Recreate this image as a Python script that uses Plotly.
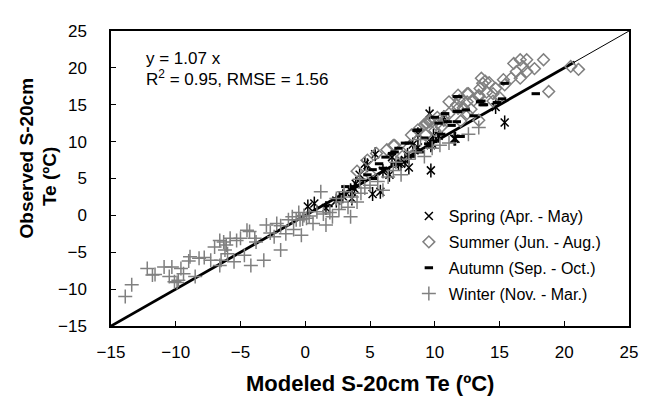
import plotly.graph_objects as go

# ---------------- data ----------------
spring_x = [9.6, 15.4, 14.7, 11.5, 8.7, 10.3, 9.8, 9.7, 9.7, 5.8, 5.2, 4.6, 5.4, 0.7, 1.6,
            3.8, 3.6, 7.4, 6.7, 8.3, 8.7, 4.8, 3.9, 3.5, 10.7, 11.6, 9.9, 7.7, 7.2, 6.5,
            7.9, 2.4, 4.2, 8.0, 6.0, 0.2, 2.9]
spring_y = [13.8, 12.6, 14.7, 10.4, 11.0, 10.8, 9.7, 6.1, 9.5, 3.2, 2.9, 7.0, 8.3, 1.6, 1.0,
            3.6, 2.3, 7.0, 7.9, 9.6, 9.2, 6.8, 4.3, 3.4, 13.3, 10.4, 10.8, 7.5, 7.0, 5.5,
            8.2, 2.0, 5.5, 6.5, 6.0, 1.2, 2.6]

summer_x = [18.4, 17.1, 16.6, 16.1, 16.8, 17.7, 17.1, 16.3, 16.6, 15.9, 15.3, 20.5, 21.1, 18.8,
            15.4, 14.7, 13.6, 13.9, 14.2, 13.5, 14.0, 14.5, 13.4, 12.5, 11.8, 11.1, 11.7, 12.5,
            13.0, 12.2, 12.8, 13.4, 9.6, 9.2, 10.1, 10.7, 11.1, 11.9, 12.6, 13.7, 13.4, 11.8,
            10.7, 9.4, 8.7, 9.3, 8.2, 6.9, 6.3, 4.8, 5.5, 6.8, 9.3, 9.6, 10.2, 4.0, 5.0, 7.5,
            8.0, 10.0, 10.5, 12.0, 12.5, 14.5, 15.0]
summer_y = [21.1, 21.1, 21.1, 20.6, 20.2, 19.9, 19.5, 19.5, 18.6, 18.6, 18.4, 20.2, 19.8, 16.8,
            17.7, 17.2, 18.6, 18.2, 18.0, 17.2, 16.7, 16.5, 16.1, 16.5, 16.3, 15.4, 15.0, 15.4,
            15.6, 14.6, 14.4, 12.9, 12.7, 12.3, 12.3, 12.9, 13.8, 15.6, 16.5, 17.9, 16.3, 14.5,
            13.4, 12.5, 11.6, 10.9, 10.9, 9.5, 8.9, 7.5, 8.4, 9.5, 12.5, 12.9, 13.3, 6.0, 5.6, 8.0,
            9.2, 11.5, 12.0, 12.8, 13.8, 15.5, 16.0]

autumn_x = [17.8, 15.4, 11.7, 13.6, 13.8, 11.7, 10.8, 10.0, 11.3, 11.9, 8.6, 9.5, 11.8, 13.5,
            13.7, 11.8, 11.0, 10.3, 11.7, 8.7, 7.7, 7.2, 8.0, 9.2, 12.0, 8.9, 8.2, 6.9, 4.8,
            4.3, 6.2, 6.7, 5.7, 5.2, 3.1, 2.5, 3.8, 6.9, 14.8, 15.2, 12.4, 13.0, 10.5, 9.9,
            7.5, 6.0, 2.9, 1.8, 5.3]
autumn_y = [16.5, 17.9, 16.1, 15.5, 15.0, 14.1, 13.8, 13.3, 12.2, 10.7, 11.5, 9.7, 16.1, 15.4,
            15.0, 14.1, 12.7, 12.5, 12.7, 11.6, 9.8, 9.1, 9.8, 10.5, 10.7, 8.6, 8.0, 8.6, 5.5,
            4.8, 7.9, 8.4, 7.0, 6.2, 3.9, 2.1, 3.9, 7.0, 15.3, 15.8, 14.3, 13.5, 11.0, 10.0,
            7.2, 6.4, 2.8, 1.3, 5.0]

winter_x = [-13.9, -13.4, -11.8, -11.6, -10.9, -10.3, -10.5, -10.1, -9.9, -9.8, -9.6, -9.4,
            -8.9, -9.0, -8.5, -8.2, -7.8, -7.3, -7.0, -6.6, -6.3, -6.1, -6.2, -6.0, -6.5, -6.6,
            -5.5, -5.3, -5.0, -4.7, -4.5, -4.3, -4.2, -3.9, -3.8, -3.2, -3.0, -2.7, -2.4, -2.2,
            -1.9, -1.9, -1.5, -1.3, -1.0, -0.9, -0.4, -0.3, -0.1, -0.2, -5.8, -12.2,
            0.1, -0.7, 0.6, 1.2, 1.6, 2.1, 2.4, 3.0, 3.5, 3.6, 4.3, 4.6, 6.4, 6.8, 7.4, 9.8,
            0.9, 1.9, 2.8, 3.3, 4.0, 5.0, 5.6, 6.0, 7.0, 8.0, 8.5, 9.2, 10.4, 11.1, 12.6, 13.4,
            8.9, 0.3, -0.5, 1.4, 2.6, 4.2]
winter_y = [-11.0, -9.4, -8.1, -8.0, -7.0, -7.0, -8.3, -9.0, -9.1, -8.8, -7.2, -7.9,
            -5.6, -6.2, -8.3, -5.8, -5.7, -6.1, -4.3, -3.4, -3.6, -4.0, -4.7, -5.2, -6.1, -6.8,
            -6.3, -3.4, -3.1, -5.4, -2.0, -2.2, -6.8, -3.1, -3.6, -6.1, -1.3, -2.4, -2.9, -1.1,
            -1.4, -4.7, -2.5, -0.6, -0.2, -1.9, -0.6, -2.7, 0.0, -0.5, -3.1, -7.2,
            -0.4, -0.6, -1.1, 3.2, -1.3, -0.2, 2.3, 3.2, -0.2, 2.5, 3.0, 3.7, 5.2, 6.1, 5.5, 9.1,
            0.5, 0.4, 1.8, 1.1, 1.8, 4.1, 4.6, 3.4, 7.2, 7.6, 8.6, 8.0, 9.5, 9.8, 11.0, 11.9,
            10.3, -0.1, 0.4, 0.2, 0.8, 4.9]

line11_x = [-15, 25]
fit_x = [-15, 20.8]

axis_ticks = [-15, -10, -5, 0, 5, 10, 15, 20, 25]

GRAY = "#808080"
FONT = "Liberation Sans, Arial, sans-serif"

fig = go.Figure()

# 1:1 line (thin) and fitted line (thick)
fig.add_trace(go.Scatter(x=line11_x, y=line11_x, mode="lines",
                         line=dict(color="black", width=1), showlegend=False, hoverinfo="skip"))
fig.add_trace(go.Scatter(x=fit_x, y=fit_x, mode="lines",
                         line=dict(color="black", width=2.8), showlegend=False, hoverinfo="skip"))

fig.add_trace(go.Scatter(x=spring_x, y=spring_y, mode="markers", name="Spring (Apr. - May)",
                         legendgroup="a",
                         marker=dict(symbol="x-thin-open", size=8, color="black",
                                     line=dict(color="black", width=1.5))))
fig.add_trace(go.Scatter(x=spring_x, y=spring_y, mode="markers", showlegend=False,
                         legendgroup="a",
                         marker=dict(symbol="line-ns-open", size=10, color="black",
                                     line=dict(color="black", width=1.5))))
fig.add_trace(go.Scatter(x=summer_x, y=summer_y, mode="markers", name="Summer (Jun. - Aug.)",
                         legendgroup="b",
                         marker=dict(symbol="diamond-open", size=9, color=GRAY,
                                     line=dict(color=GRAY, width=1.5))))
fig.add_trace(go.Scatter(x=autumn_x, y=autumn_y, mode="markers", name="Autumn (Sep. - Oct.)",
                         legendgroup="c",
                         marker=dict(symbol="line-ew-open", size=6, color="black",
                                     line=dict(color="black", width=3))))
fig.add_trace(go.Scatter(x=winter_x, y=winter_y, mode="markers", name="Winter (Nov. - Mar.)",
                         legendgroup="d",
                         marker=dict(symbol="cross-thin-open", size=10, color=GRAY,
                                     line=dict(color=GRAY, width=1.5))))

axis_common = dict(range=[-15, 25], tickvals=axis_ticks, ticks="inside", ticklen=5,
                   tickwidth=1, tickcolor="black", showline=True, linecolor="black",
                   linewidth=1.5, mirror=True, showgrid=False, zeroline=False,
                   tickfont=dict(family=FONT, size=17, color="black"))

fig.update_xaxes(**axis_common, ticklabelstandoff=10)
fig.update_yaxes(**axis_common, ticklabelstandoff=19)

fig.update_layout(
    width=650, height=403,
    margin=dict(l=111, r=12, t=31, b=77),
    paper_bgcolor="white", plot_bgcolor="white",
    font=dict(family=FONT, color="black"),
    showlegend=True,
    legend=dict(x=0.575, y=0.43, xanchor="left", yanchor="top",
                font=dict(family=FONT, size=16, color="black"),
                bgcolor="rgba(255,255,255,0)", borderwidth=0,
                traceorder="grouped", tracegroupgap=2, itemwidth=30),
    annotations=[
        dict(text="y = 1.07 x", xref="paper", yref="paper", x=(145 - 111) / 527, y=(326 - 58) / 295,
             xanchor="left", yanchor="middle", showarrow=False,
             font=dict(family=FONT, size=17, color="black")),
        dict(text="R<sup>2</sup> = 0.95, RMSE = 1.56", xref="paper", yref="paper",
             x=(145 - 111) / 527, y=(326 - 78) / 295,
             xanchor="left", yanchor="middle", showarrow=False,
             font=dict(family=FONT, size=17, color="black")),
        dict(text="<b>Modeled S-20cm Te (ºC)</b>", xref="paper", yref="paper",
             x=0.5, y=(326 - 383) / 295, xanchor="center", yanchor="middle", showarrow=False,
             font=dict(family=FONT, size=22, color="black")),
        dict(text="<b>Observed S-20cm</b>", xref="paper", yref="paper",
             x=(25 - 111) / 527, y=(326 - 158) / 295, xanchor="center", yanchor="middle",
             textangle=-90, showarrow=False,
             font=dict(family=FONT, size=19, color="black")),
        dict(text="<b>Te (ºC)</b>", xref="paper", yref="paper",
             x=(48 - 111) / 527, y=(326 - 177) / 295, xanchor="center", yanchor="middle",
             textangle=-90, showarrow=False,
             font=dict(family=FONT, size=19, color="black")),
    ],
)

fig.write_html("out.html")
